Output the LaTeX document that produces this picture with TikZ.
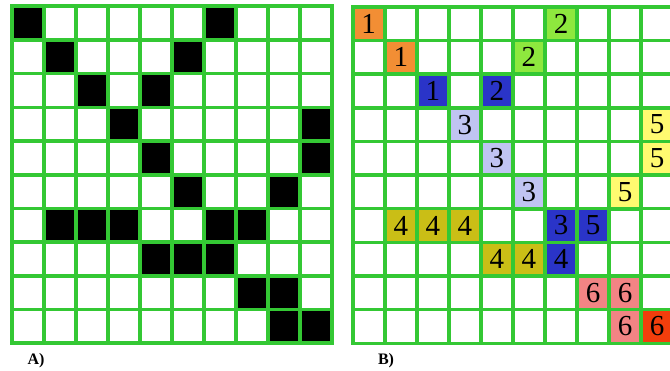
\documentclass[tikz,border=0pt]{standalone}
\usepackage{tikz}
\usepackage{xcolor}
\usepackage{fontspec}
\setmainfont{Liberation Serif}
\definecolor{gridgreen}{RGB}{52,200,52}
\definecolor{mkorange}{RGB}{242,142,52}
\definecolor{mklime}{RGB}{142,232,62}
\definecolor{mkblue}{RGB}{42,52,200}
\definecolor{mklav}{RGB}{192,196,242}
\definecolor{mkyellow}{RGB}{255,250,112}
\definecolor{mkolive}{RGB}{202,190,22}
\definecolor{mkpink}{RGB}{242,132,132}
\definecolor{mkred}{RGB}{242,62,12}

\begin{document}
\begin{tikzpicture}[x=1pt,y=-1pt,
    cell/.style={draw=gridgreen,line width=3.6pt,fill=white,inner sep=0pt,
      minimum width=32.05pt,minimum height=33.7pt,font=\fontsize{29}{29}\selectfont},
    tag/.style={font=\bfseries\fontsize{16}{16}\selectfont,inner sep=0pt}]
  \useasboundingbox[fill=white] (0,0) rectangle (670,371);
  % grid A
  \foreach \r in {0,...,9}
    \foreach \c in {0,...,9}
      \node[cell] (a-\r-\c) at ({11.7+32.05*(\c+0.5)},{6.3+33.7*(\r+0.5)}) {};
  \foreach \r/\c in {0/0,0/6,1/1,1/5,2/2,2/4,3/3,3/9,4/4,4/9,5/5,5/8,
      6/1,6/2,6/3,6/6,6/7,7/4,7/5,7/6,8/7,8/8,9/8,9/9}
    \node[cell,fill=black] (ka-\r-\c) at (a-\r-\c) {};
  % grid B
  \foreach \r in {0,...,9}
    \foreach \c in {0,...,9}
      \node[cell] (b-\r-\c) at ({352.7+32.05*(\c+0.5)},{6.8+33.65*(\r+0.5)}) {};
  \foreach \r/\c/\col/\n in {0/0/mkorange/1,1/1/mkorange/1,2/2/mkblue/1,
      0/6/mklime/2,1/5/mklime/2,2/4/mkblue/2,
      3/3/mklav/3,4/4/mklav/3,5/5/mklav/3,6/6/mkblue/3,
      6/1/mkolive/4,6/2/mkolive/4,6/3/mkolive/4,7/4/mkolive/4,7/5/mkolive/4,7/6/mkblue/4,
      3/9/mkyellow/5,4/9/mkyellow/5,5/8/mkyellow/5,6/7/mkblue/5,
      8/7/mkpink/6,8/8/mkpink/6,9/8/mkpink/6,9/9/mkred/6}
    \node[cell,fill=\col] (kb-\r-\c) at (b-\r-\c) {\n};
  \node[tag] (capa) at (36,361) {A)};
  \node[tag] (capb) at (386,361) {B)};
\end{tikzpicture}
\end{document}
